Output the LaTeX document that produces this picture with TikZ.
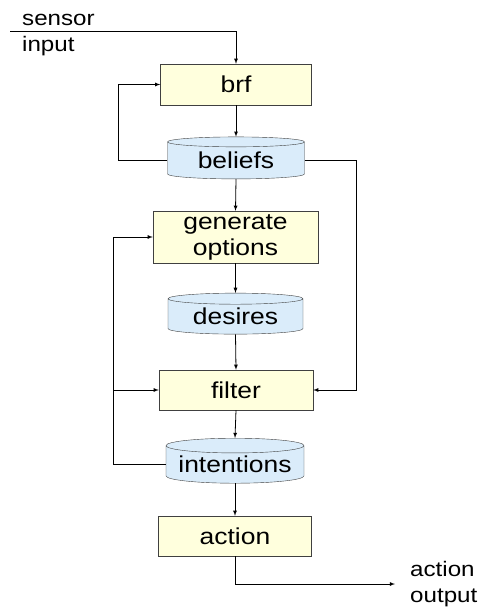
\documentclass[tikz,border=0pt]{standalone}
\usepackage{fontspec}
\setmainfont{Liberation Sans}[FakeStretch=1.15]
\usetikzlibrary{shapes.geometric}
\definecolor{boxyellow}{RGB}{255,255,221}
\definecolor{storeblue}{RGB}{218,236,250}
\definecolor{edgegray}{RGB}{64,64,64}

\begin{document}
\begin{tikzpicture}[x=1pt,y=-1pt,>=latex]
	\tikzstyle{process}=[rectangle,draw=edgegray,fill=boxyellow,font=\fontsize{23}{26}\selectfont,align=center,inner sep=0pt]
	\tikzstyle{store}=[cylinder,shape border rotate=90,shape aspect=0.13,draw=edgegray,fill=storeblue,font=\fontsize{23}{26}\selectfont,inner sep=0pt]
	\tikzstyle{iolabel}=[align=left,font=\fontsize{21}{26}\selectfont,inner sep=0pt]
	\tikzstyle{flow}=[draw,->,line width=0.8pt]

	\useasboundingbox (0,0) rectangle (481,610);

	% boxes and stores
	\node [process,minimum width=151,minimum height=41] (brf) at (236,84.5) {brf};
	\node [store,minimum width=137,minimum height=42] (beliefs) at (236,160.5) {beliefs};
	\node [process,minimum width=165,minimum height=52] (gen) at (235.5,237) {generate\\options};
	\node [store,minimum width=135,minimum height=41] (desires) at (235.5,316.5) {desires};
	\node [process,minimum width=154,minimum height=40] (filter) at (236,390) {filter};
	\node [store,minimum width=138,minimum height=45] (intentions) at (235,464.5) {intentions};
	\node [process,minimum width=153,minimum height=40] (action) at (235,536) {action};

	% inputs and outputs
	\node [iolabel,anchor=west] (sensor) at (22,35) {sensor\\input};
	\node [iolabel,anchor=west] (actout) at (410,584) {action\\output};
	\coordinate (sin) at (10,31);
	\coordinate (aout) at (395,584);
	\coordinate (lb) at (118,0);
	\coordinate (li) at (113,0);
	\coordinate (rb) at (356,0);

	\draw [flow] (sin) -| (brf.north);
	\draw [flow] (brf.south) -- (beliefs.north);
	\draw [flow] (beliefs.west) -- (beliefs.west -| lb) |- (brf.west);
	\draw [flow] (beliefs.east) -- (beliefs.east -| rb) |- (filter.east);
	\draw [flow] (beliefs.south) -- (gen.north);
	\draw [flow] (gen.south) -- (desires.north);
	\draw [flow] (desires.south) -- (filter.north);
	\draw [flow] (filter.south) -- (intentions.north);
	\draw [flow] (intentions.west) -- (intentions.west -| li) |- (gen.west);
	\draw [flow] (filter.west -| li) -- (filter.west);
	\draw [flow] (intentions.south) -- (action.north);
	\draw [flow] (action.south) |- (aout);
\end{tikzpicture}
\end{document}
